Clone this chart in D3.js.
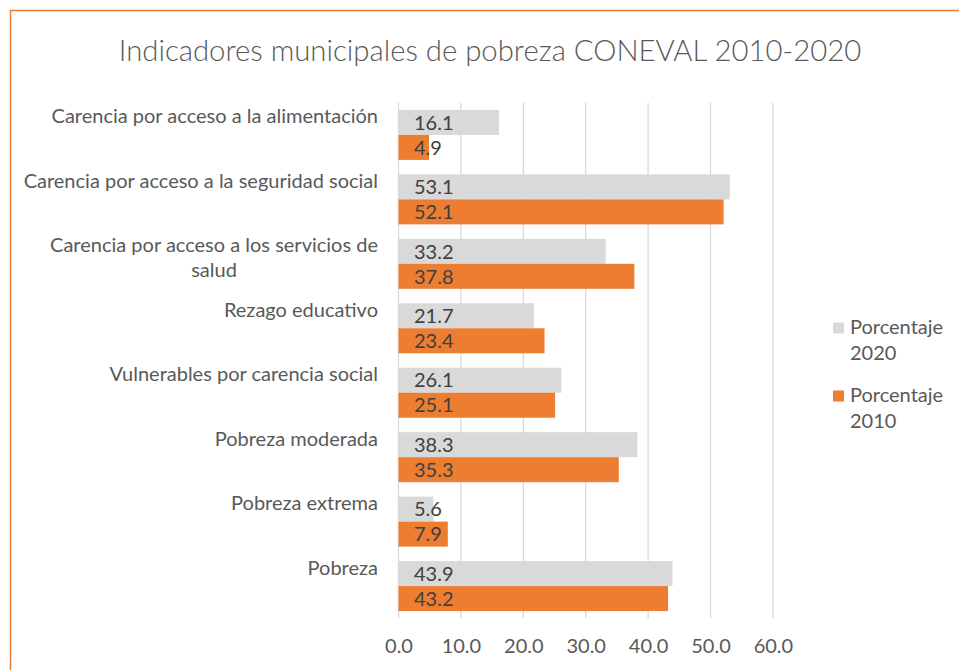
<!DOCTYPE html>
<html lang="es">
<head>
<meta charset="utf-8"/>
<title>Indicadores municipales de pobreza CONEVAL 2010-2020</title>
<script src="https://d3js.org/d3.v7.min.js"></script>
<style>
  body { margin: 0; background: #fff; }
  svg { display: block; font-family: Lato, "Open Sans", sans-serif; }
  .grid line { stroke: #d9d9d9; stroke-width: 1.3px; }
  .axis .domain, .axis line { display: none; }
  .axis text { fill: #595959; font-size: 20px; font-family: Lato, sans-serif; }
  .cat text { fill: #595959; font-size: 20px; }
  .lbl { fill: #404040; font-size: 20px; }
  .legend text { fill: #595959; font-size: 20px; }
</style>
</head>
<body>
<div id="chart"></div>
<script>
  // data, top to bottom as in the picture
  var categories = [
    "Carencia por acceso a la alimentación",
    "Carencia por acceso a la seguridad social",
    "Carencia por acceso a los servicios de salud",
    "Rezago educativo",
    "Vulnerables por carencia social",
    "Pobreza moderada",
    "Pobreza extrema",
    "Pobreza"
  ];
  var series = ["Porcentaje 2020", "Porcentaje 2010"];
  var values2020 = [16.1, 53.1, 33.2, 21.7, 26.1, 38.3, 5.6, 43.9];
  var values2010 = [4.9, 52.1, 37.8, 23.4, 25.1, 35.3, 7.9, 43.2];
  var xTicks = [0, 10, 20, 30, 40, 50, 60];

  var width = 959, height = 670;
  var colors = { "Porcentaje 2020": "#d9d9d9", "Porcentaje 2010": "#ed7d31" };

  var svg = d3.select("#chart").append("svg")
      .attr("width", width)
      .attr("height", height);

  // chart frame (runs past the right/bottom edges of the shot)
  svg.append("rect")
      .attr("x", 10.5).attr("y", 10.5)
      .attr("width", 1000).attr("height", 700)
      .attr("fill", "#fff")
      .attr("stroke", "#ed7d31")
      .attr("stroke-width", 1.5);

  svg.append("text")
      .attr("x", 490).attr("y", 61)
      .attr("text-anchor", "middle")
      .attr("fill", "#595959")
      .attr("font-size", 29.3)
      .attr("font-weight", 300)
      .text("Indicadores municipales de pobreza CONEVAL 2010-2020");

  var x = d3.scaleLinear().domain([0, 60]).range([398.5, 772.9]);
  var y0 = d3.scaleBand().domain(categories).range([102.7, 618.3]);
  var y1 = d3.scaleBand().domain(series).range([0, y0.bandwidth()]).paddingOuter(0.289);

  var rows = categories.map(function(c, i) {
    return { cat: c, vals: [ { s: series[0], v: values2020[i] }, { s: series[1], v: values2010[i] } ] };
  });

  svg.append("g")
      .attr("class", "grid")
    .selectAll("line")
    .data(xTicks)
    .enter().append("line")
      .attr("x1", function(d) { return x(d); })
      .attr("x2", function(d) { return x(d); })
      .attr("y1", 102.7)
      .attr("y2", 618.3);

  var grp = svg.append("g").selectAll("g")
    .data(rows)
    .enter().append("g")
      .attr("transform", function(d) { return "translate(0," + y0(d.cat) + ")"; });

  grp.selectAll("rect")
    .data(function(d) { return d.vals; })
    .enter().append("rect")
      .attr("x", x(0))
      .attr("y", function(d) { return y1(d.s); })
      .attr("width", function(d) { return x(d.v) - x(0); })
      .attr("height", y1.bandwidth())
      .attr("fill", function(d) { return colors[d.s]; });

  grp.selectAll("text.lbl")
    .data(function(d) { return d.vals; })
    .enter().append("text")
      .attr("class", "lbl")
      .attr("x", x(0) + 15.5)
      .attr("y", function(d) { return y1(d.s) + y1.bandwidth() / 2; })
      .attr("dy", "0.36em")
      .text(function(d) { return d3.format(".1f")(d.v); });

  // category labels: wrapped, block right-aligned, lines centred in the block
  var cat = svg.append("g").attr("class", "cat");
  categories.forEach(function(c) {
    var t = cat.append("text")
        .attr("y", y0(c) + y0.bandwidth() / 2 - 11.5);
    var words = c.split(" "), line = [], lines = [];
    var probe = t.append("tspan");
    words.forEach(function(w) {
      line.push(w);
      probe.text(line.join(" "));
      if (probe.node().getComputedTextLength() > 365 && line.length > 1) {
        line.pop();
        lines.push(line.join(" "));
        line = [w];
      }
    });
    lines.push(line.join(" "));
    var widest = 0;
    lines.forEach(function(l) {
      probe.text(l);
      widest = Math.max(widest, probe.node().getComputedTextLength());
    });
    probe.remove();
    t.attr("text-anchor", "middle");
    lines.forEach(function(l, i) {
      t.append("tspan").attr("x", 378 - widest / 2).attr("dy", i ? 25 : 0).text(l);
    });
  });

  svg.append("g")
      .attr("class", "axis")
      .attr("transform", "translate(0,653)")
      .call(d3.axisBottom(x).tickValues(xTicks).tickFormat(d3.format(".1f")).tickSize(0).tickPadding(0))
    .selectAll("text")
      .attr("dy", 0);

  var legend = svg.append("g")
      .attr("class", "legend")
    .selectAll("g")
    .data(series)
    .enter().append("g")
      .attr("transform", function(d, i) { return "translate(833," + (322.5 + i * 68) + ")"; });

  legend.append("rect")
      .attr("width", 11)
      .attr("height", 11)
      .attr("fill", function(d) { return colors[d]; });

  legend.append("text")
      .attr("x", 17)
      .attr("y", 11.8)
      .selectAll("tspan")
      .data(function(d) { return d.split(" "); })
      .enter().append("tspan")
        .attr("x", 17)
        .attr("dy", function(d, i) { return i ? 25.7 : 0; })
        .text(function(d) { return d; });
</script>
</body>
</html>
